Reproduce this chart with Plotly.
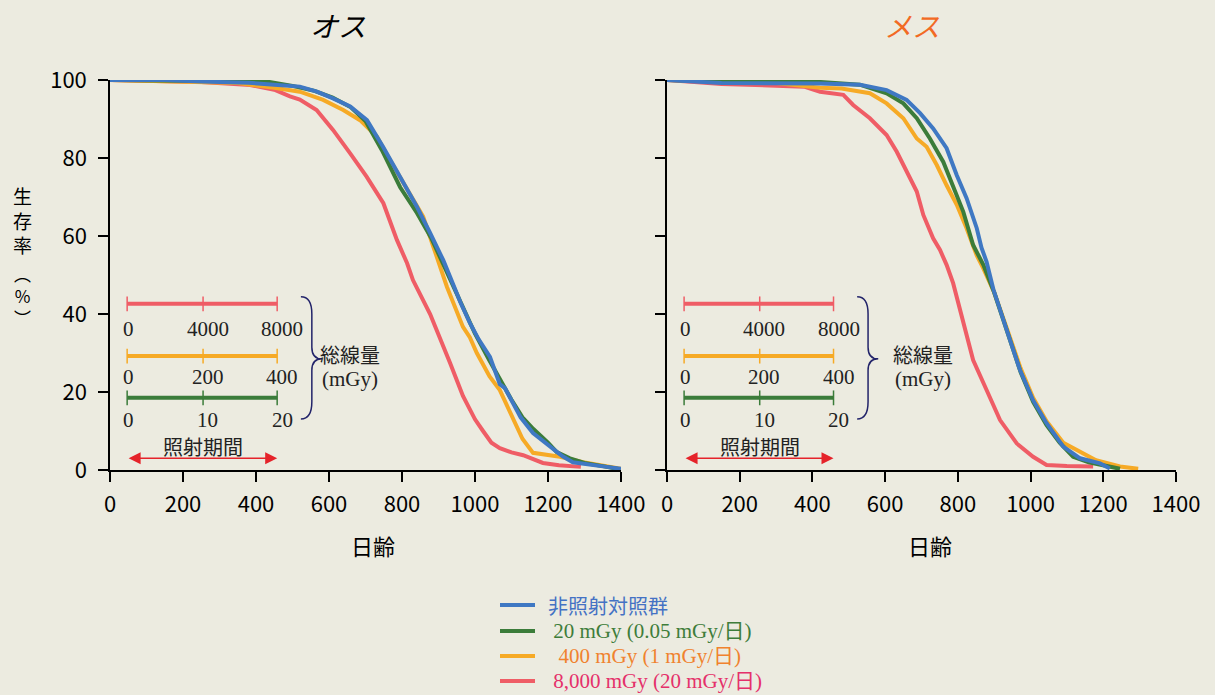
import plotly.graph_objects as go

# ---------------- data ----------------
# Male (オス)
m_ctrl_day = [0, 150, 250, 380, 450, 520, 567, 611, 658, 704, 748, 795, 841, 877, 913, 932, 960, 986, 1010, 1041, 1068, 1082, 1096, 1125, 1159, 1205, 1240, 1268, 1300, 1361, 1400]
m_ctrl_pct = [100, 100, 99.6, 99.3, 98.8, 98.3, 97, 95.3, 93.2, 89.7, 82.9, 75.2, 67.5, 60.8, 53.8, 49.5, 43, 37.7, 33.5, 29, 22, 21, 18.7, 13.5, 9.5, 6, 3.5, 2, 1.5, 0.8, 0.3]
m_20_day = [0, 300, 430, 500, 560, 610, 660, 700, 745, 795, 841, 880, 904, 940, 975, 1000, 1040, 1080, 1100, 1130, 1160, 1200, 1224, 1260, 1300, 1350, 1390]
m_20_pct = [100, 99.8, 99.6, 98.5, 97.2, 95.5, 93, 89.5, 82, 72.5, 65.9, 59.5, 54.6, 47.5, 40, 35, 28, 21, 18, 13.5, 10.5, 7, 4.6, 3, 1.8, 1, 0.3]
m_400_day = [0, 200, 350, 450, 520, 584, 639, 685, 731, 767, 822, 858, 885, 923, 967, 986, 1005, 1040, 1068, 1096, 1130, 1159, 1233, 1296, 1340, 1400]
m_400_pct = [100, 99.5, 99.2, 98, 97, 94.9, 92.3, 89.7, 85.5, 79.5, 71, 65, 57.5, 47, 36.7, 34, 30, 24, 20.5, 14.6, 8, 4.4, 3.4, 2, 1.2, 0.3]
m_8000_day = [0, 100, 250, 384, 450, 493, 520, 566, 611, 658, 703, 749, 786, 814, 830, 877, 900, 932, 967, 978, 1000, 1022, 1045, 1068, 1100, 1132, 1186, 1230, 1290]
m_8000_pct = [100, 99.8, 99.5, 98.7, 97.5, 95.8, 95, 92.3, 87.2, 81.2, 75.2, 68.4, 59, 53, 48.7, 40, 35, 27.4, 19, 17, 13, 10, 7, 5.6, 4.5, 3.8, 1.8, 1.2, 0.8]

# Female (メス)
f_ctrl_day = [0, 60, 150, 420, 531, 604, 659, 696, 732, 769, 797, 824, 852, 865, 879, 898, 934, 971, 1007, 1044, 1090, 1136, 1191, 1218]
f_ctrl_pct = [100, 99.7, 99.2, 99.1, 98.8, 97.4, 94.9, 91.5, 87.6, 82.5, 75.6, 69.7, 62, 57, 53.4, 46.2, 35.9, 25.6, 17.9, 12, 6, 3, 1.7, 0.4]
f_20_day = [0, 150, 421, 530, 604, 650, 687, 723, 760, 787, 815, 842, 870, 900, 936, 973, 1007, 1044, 1080, 1117, 1160, 1200, 1246]
f_20_pct = [100, 99.6, 99.5, 98.8, 96.6, 94, 90.2, 85, 79, 73, 66.2, 57.7, 52.6, 45.5, 35.5, 25, 17.5, 11.5, 7, 3.4, 2, 1.3, 0.3]
f_400_day = [0, 120, 300, 421, 480, 558, 604, 650, 687, 714, 742, 769, 797, 824, 852, 870, 900, 936, 973, 1007, 1044, 1090, 1127, 1180, 1246, 1296]
f_400_pct = [100, 99.7, 99.2, 98, 97.8, 96.6, 94, 90.2, 85, 82.9, 78.2, 73, 68, 62, 55, 51.7, 45.5, 36, 26, 18.5, 12.5, 7, 5.1, 2.5, 0.9, 0.3]
f_8000_day = [0, 50, 150, 377, 421, 485, 512, 558, 604, 632, 659, 687, 705, 732, 751, 769, 787, 815, 842, 879, 916, 962, 1007, 1044, 1100, 1172]
f_8000_pct = [100, 99.6, 99, 98.3, 97, 96.2, 93.6, 90.2, 85.9, 81.6, 76.5, 71.4, 65.4, 59.4, 56.4, 52.6, 47.9, 37.6, 28.2, 20.5, 12.8, 6.8, 3.4, 1.3, 1, 0.9]

y_ticks = [0, 20, 40, 60, 80, 100]
x_ticks = [0, 200, 400, 600, 800, 1000, 1200, 1400]

series_labels = ["非照射対照群", "\u00a020 mGy (0.05 mGy/日)", "\u00a0\u00a0400 mGy (1 mGy/日)", "\u00a08,000 mGy (20 mGy/日)"]
label_colors = ["#4472C4", "#3E7D3A", "#F0822E", "#E5306A"]
colors = ["#3F78C3", "#3B7C3A", "#F6AA26", "#EF5D66"]

# inset scale labels
dose_labels = [["0", "4000", "8000"], ["0", "200", "400"], ["0", "10", "20"]]
period_days = [47, 255, 458]

BG = "#ECEBE0"
SANS = "Noto Sans CJK JP, Noto Sans, sans-serif"
SERIF = "Liberation Serif, Noto Sans CJK JP, serif"

W, H = 1215, 695


def px(x):
    return x / W


def py(y):
    return 1 - y / H


fig = go.Figure()

male = [(m_ctrl_day, m_ctrl_pct), (m_20_day, m_20_pct), (m_400_day, m_400_pct), (m_8000_day, m_8000_pct)]
female = [(f_ctrl_day, f_ctrl_pct), (f_20_day, f_20_pct), (f_400_day, f_400_pct), (f_8000_day, f_8000_pct)]

# draw red first, blue last (on top)
for i in [3, 2, 1, 0]:
    fig.add_trace(go.Scatter(x=male[i][0], y=male[i][1], mode="lines",
                             line=dict(color=colors[i], width=4),
                             name=series_labels[i], xaxis="x", yaxis="y", showlegend=False))
for i in [3, 2, 1, 0]:
    fig.add_trace(go.Scatter(x=female[i][0], y=female[i][1], mode="lines",
                             line=dict(color=colors[i], width=4),
                             name=series_labels[i], xaxis="x2", yaxis="y2", showlegend=False))

xd1 = [px(110), px(621)]
xd2 = [px(667), px(1176)]
yd = [py(470), py(80)]

axis_common = dict(showgrid=False, zeroline=False, showline=True, linecolor="black",
                   linewidth=1.5, ticks="outside", ticklen=10, tickwidth=1.5,
                   tickcolor="black", automargin=False,
                   tickfont=dict(family=SANS, size=22, color="black"))

shapes = []
annotations = []

inset_rows = [(42.6, 36.2, colors[3]), (29.2, 23.8, colors[2]), (18.5, 12.8, colors[1])]
label_days = [52, 268, 472]

for xr, yr, mgy_day in [("x", "y", 658), ("x2", "y2", 705)]:
    for r, (ly, ty, c) in enumerate(inset_rows):
        shapes.append(dict(type="line", xref=xr, yref=yr, x0=period_days[0], x1=period_days[2],
                           y0=ly, y1=ly, line=dict(color=c, width=4)))
        for d in period_days:
            shapes.append(dict(type="line", xref=xr, yref=yr, x0=d, x1=d, y0=ly - 1.9, y1=ly + 1.9,
                               line=dict(color=c, width=1.5)))
        for k, txt in enumerate(dose_labels[r]):
            annotations.append(dict(text=txt, xref=xr, yref=yr, x=label_days[k], y=ty,
                                    showarrow=False, font=dict(family=SERIF, size=21, color="#222222"),
                                    xanchor="center", yanchor="middle"))
    # brace
    shapes.append(dict(type="path", xref=xr, yref=yr,
                       path="M 523,44.4 Q 553,44.4 553,40 L 553,31.5 Q 553,28.5 581,28.5 "
                            "Q 553,28.5 553,25.5 L 553,17.5 Q 553,13.1 523,13.1",
                       line=dict(color="#23246A", width=1.5)))
    annotations.append(dict(text="総線量", xref=xr, yref=yr, x=mgy_day, y=29.7, showarrow=False,
                            xanchor="center", yanchor="middle",
                            font=dict(family=SANS, size=20, color="#222222")))
    annotations.append(dict(text="(mGy)", xref=xr, yref=yr, x=mgy_day, y=23.3, showarrow=False,
                            xanchor="center", yanchor="middle",
                            font=dict(family=SERIF, size=21, color="#222222")))
    annotations.append(dict(text="照射期間", xref=xr, yref=yr, x=period_days[1], y=6.0, showarrow=False,
                            xanchor="center", yanchor="middle",
                            font=dict(family=SANS, size=20, color="#222222")))
    annotations.append(dict(text="", xref=xr, yref=yr, x=period_days[2], y=3.0,
                            axref=xr, ayref=yr, ax=period_days[0], ay=3.0,
                            showarrow=True, arrowside="end+start", arrowhead=2,
                            arrowsize=1.6, arrowwidth=1.5, arrowcolor="#E5232A"))

# titles
annotations.append(dict(text="<i>オス</i>", xref="paper", yref="paper", x=px(338), y=py(25),
                        xanchor="center", yanchor="middle", showarrow=False,
                        font=dict(family=SANS, size=28, color="black")))
annotations.append(dict(text="<i>メス</i>", xref="paper", yref="paper", x=px(912), y=py(25),
                        xanchor="center", yanchor="middle", showarrow=False,
                        font=dict(family=SANS, size=28, color="#F26A24")))
# x titles
for cx in [373, 930]:
    annotations.append(dict(text="日齢", xref="paper", yref="paper", x=px(cx), y=py(545),
                            xanchor="center", yanchor="middle", showarrow=False,
                            font=dict(family=SANS, size=22, color="black")))
# y title (vertical writing)
annotations.append(dict(text="生<br>存<br>率", xref="paper", yref="paper", x=px(22), y=py(220),
                        xanchor="center", yanchor="middle", showarrow=False,
                        font=dict(family=SANS, size=19, color="black")))
annotations.append(dict(text="︵<br>%<br>︶", xref="paper", yref="paper", x=px(22), y=py(296),
                        xanchor="center", yanchor="middle", showarrow=False,
                        font=dict(family=SANS, size=17, color="black")))

# legend (manual)
for i, ry in enumerate([605, 631, 656, 681]):
    shapes.append(dict(type="line", xref="paper", yref="paper", x0=px(500), x1=px(535),
                       y0=py(ry), y1=py(ry), line=dict(color=colors[i], width=4)))
    annotations.append(dict(text=series_labels[i], xref="paper", yref="paper", x=px(546), y=py(ry),
                            xanchor="left", yanchor="middle", showarrow=False,
                            font=dict(family=SANS if i == 0 else SERIF, size=20 if i == 0 else 21,
                                      color=label_colors[i])))

fig.update_layout(
    width=W, height=H,
    margin=dict(l=0, r=0, t=0, b=0, autoexpand=False),
    paper_bgcolor=BG, plot_bgcolor=BG,
    showlegend=False,
    xaxis=dict(domain=xd1, range=[0, 1400], tickvals=x_ticks, anchor="y", ticklabelstandoff=4, **axis_common),
    yaxis=dict(domain=yd, range=[0, 100], tickvals=y_ticks, anchor="x", ticklabelstandoff=7, **axis_common),
    xaxis2=dict(domain=xd2, range=[0, 1400], tickvals=x_ticks, anchor="y2", ticklabelstandoff=4, **axis_common),
    yaxis2=dict(domain=yd, range=[0, 100], tickvals=y_ticks, anchor="x2", showticklabels=False,
                **axis_common),
    shapes=shapes,
    annotations=annotations,
)

fig.write_html("out.html")
